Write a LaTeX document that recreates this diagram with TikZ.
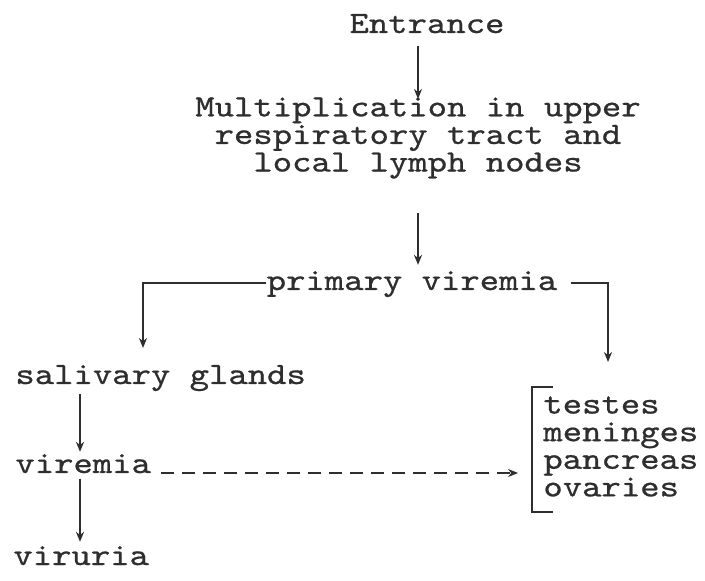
\documentclass[tikz,border=0pt]{standalone}
\usepackage{fontspec}
\usepackage{tikz}
\usetikzlibrary{arrows.meta, calc}
\newfontfamily\typewriter[FakeStretch=1.19, FakeBold=0.7]{lmmono10-regular.otf}
\newcommand\stagefont{\typewriter\fontsize{15.5}{13.8}\selectfont\lineskiplimit=-20pt\relax}
\newcommand\organfont{\typewriter\fontsize{15.5}{13.8}\selectfont\lineskiplimit=-20pt\relax}
\definecolor{ink}{gray}{0.18}
\tikzset{
  stage text/.style={
    font=\stagefont,
    text=ink,
    inner sep=0pt
  },
  flow arrow/.style={
    -{Stealth[length=5pt, width=4pt]},
    line width=0.75pt,
    draw=ink
  },
  spread arrow/.style={
    flow arrow,
    dash pattern=on 6.5pt off 4pt
  },
  organ bracket/.style={
    line width=0.75pt,
    draw=ink
  }
}

\begin{document}
\begin{tikzpicture}[x=0.5pt, y=-0.5pt]

  \useasboundingbox[fill=white] (0,0) rectangle (705,581);

  %% ---- main chain (top, centred) ----
  \node[stage text, anchor=base] (entr) at (427,33) {Entrance};
  \node[stage text, align=center, anchor=north] (mult) at (418,97)
      {Multiplication in upper\\respiratory tract and\\local lymph nodes};
  \node[stage text, anchor=base] (prim) at (412,290) {primary viremia};

  \draw[flow arrow, shorten <=6pt, shorten >=-1pt]
      (entr.south -| mult.north) -- (mult.north);
  \draw[flow arrow, shorten <=17pt, shorten >=3pt]
      (mult.south) -- (mult.south |- prim.north);

  %% ---- left column ----
  \coordinate (lstem) at (80,0);
  \node[stage text, anchor=base west] (saliv) at (15,384) {salivary glands};
  \node[stage text, anchor=base west] (vir)   at (15,473) {viremia};
  \node[stage text, anchor=base west] (viru)  at (13,565) {viruria};

  \draw[flow arrow, shorten <=1.5pt, shorten >=1pt]
      (saliv.south -| lstem) -- (vir.north -| lstem);
  \draw[flow arrow, shorten <=2.5pt, shorten >=2pt]
      (vir.south -| lstem) -- (viru.north -| lstem);

  %% ---- branches from primary viremia ----
  \coordinate (lcorner) at (143,283);
  \coordinate (rcorner) at (608,283);
  \draw[flow arrow] (prim.west |- lcorner) -- (lcorner) -- ($(lcorner)+(0,65)$);

  %% ---- target organs ----
  \node[stage text, align=left, anchor=north west, font=\organfont]
        (organs) at (543,396)
      {testes\\meninges\\pancreas\\ovaries};
  \draw[organ bracket]
      ($(organs.north west)+(10,-9)$) -- ($(organs.north west)+(-11,-9)$)
      -- ($(organs.south west)+(-11,15)$) -- ($(organs.south west)+(10,15)$);

  \draw[flow arrow, shorten <=6.5pt] (prim.east |- rcorner) -- (rcorner)
      -- ($(rcorner |- organs.north)+(0,-34)$);
  \draw[spread arrow, yshift=1pt, shorten <=5pt, shorten >=12.5pt]
      (vir.base east) -- (vir.base east -| organs.west);

\end{tikzpicture}
\end{document}
